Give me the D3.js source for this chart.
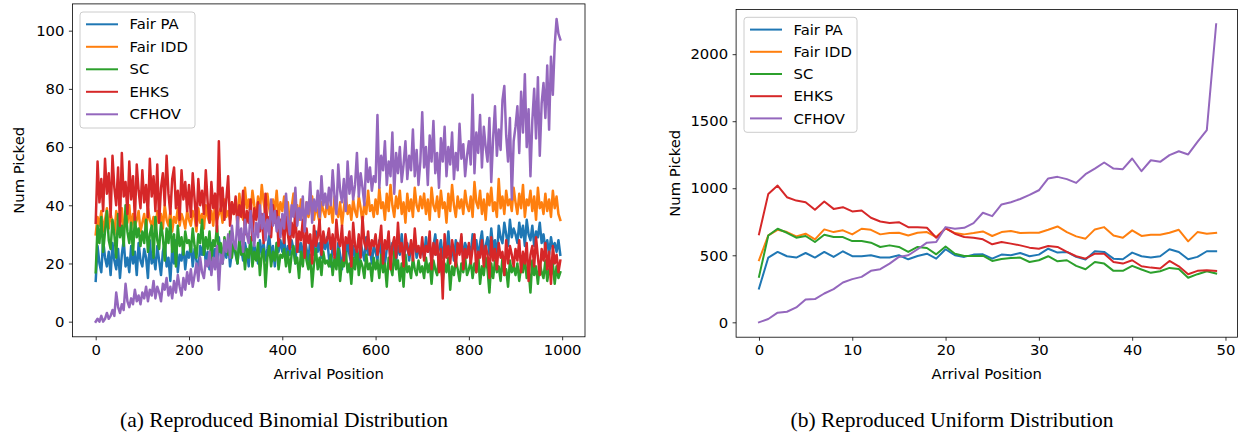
<!DOCTYPE html>
<meta charset="utf-8">
<div id="chart"></div>
<style>
body { margin: 0; background: #fff; }
#chart text { font-family: 'DejaVu Sans', sans-serif; fill: #000; }
#chart .caption { font-family: 'Liberation Serif', 'Times New Roman', serif; }
</style>
<script src="https://d3js.org/d3.v7.min.js"></script>
<script>
var names = ['Fair PA', 'Fair IDD', 'SC', 'EHKS', 'CFHOV'];
var colors = ['#1f77b4', '#ff7f0e', '#2ca02c', '#d62728', '#9467bd'];

// (a) binomial: one value every 4 arrival positions, 25 per row = 100 positions
var binomialX = d3.range(0, 1000, 4);
var binFairPA = [
  14,26,20,17,28,22,19,24,16,27,21,18,25,15,23,28,19,22,17,26,20,24,16,27,21,
  19,25,22,15,28,20,23,18,26,21,16,24,27,19,22,14,25,20,28,17,23,21,26,18,24,
  22,27,19,25,21,17,26,23,28,20,24,18,27,22,25,19,29,23,20,26,22,28,19,24,27,
  23,20,28,25,21,27,24,19,29,22,26,24,20,28,23,27,21,25,30,22,26,19,27,24,28,
  24,29,21,26,23,28,25,20,30,24,27,22,29,25,21,28,26,23,31,24,27,22,28,25,29,
  22,19,26,24,20,27,23,18,25,21,28,23,20,26,22,25,19,27,24,21,29,23,25,20,26,
  24,21,28,23,26,20,25,29,22,27,24,21,26,23,30,22,25,27,21,26,24,28,22,25,23,
  25,22,29,24,27,21,26,30,23,25,28,22,27,24,31,23,26,21,28,25,24,29,22,27,25,
  26,23,30,25,28,22,27,31,24,26,29,23,32,25,28,21,33,29,27,34,30,26,35,29,32,
  30,27,34,29,33,26,35,30,28,33,26,31,29,34,27,30,25,28,23,29,25,27,24,28,23
];
var binFairIDD = [
  30,36,33,38,31,35,39,32,37,34,30,38,35,33,39,31,36,34,40,32,37,33,35,38,31,
  34,37,31,39,35,33,36,30,38,34,37,32,40,35,33,38,31,36,34,39,33,37,35,32,38,
  35,33,38,36,31,39,34,37,32,40,36,34,38,33,41,35,37,39,34,42,36,38,35,41,37,
  40,36,44,38,35,46,39,42,37,45,40,36,43,38,47,41,37,44,39,35,42,38,45,36,41,
  38,43,36,41,34,39,44,37,40,35,42,38,33,41,36,39,43,35,40,37,34,41,38,36,42,
  37,40,34,43,38,36,41,33,39,44,37,40,35,42,38,36,43,39,34,41,37,45,38,40,36,
  42,37,46,39,41,35,44,38,47,40,36,43,39,45,37,41,34,44,38,42,36,46,40,38,43,
  39,44,37,42,35,46,40,38,43,36,45,39,41,34,44,38,47,40,36,43,39,42,37,45,40,
  38,43,36,48,41,39,45,37,42,35,44,40,46,38,41,36,49,39,43,37,45,40,42,38,46,
  41,37,44,39,47,36,42,40,45,38,43,35,46,39,41,37,44,38,42,36,45,39,43,37,35
];
var binSC = [
  17,33,27,36,24,31,38,28,25,35,30,22,37,29,33,26,40,31,27,34,23,36,29,32,26,
  31,27,35,24,30,33,22,36,28,25,34,29,21,32,27,35,24,30,19,33,26,29,23,31,27,
  28,24,32,26,22,30,27,35,23,29,25,31,21,28,26,33,24,27,20,29,25,23,31,22,27,
  24,20,28,23,26,18,25,22,29,19,24,21,27,16,23,25,12,22,26,19,24,21,27,18,23,
  22,25,19,24,17,23,26,20,22,15,24,19,27,21,18,23,12,20,25,18,22,16,24,20,21,
  19,23,16,22,18,25,14,21,19,24,17,20,13,22,18,25,16,21,19,15,23,18,20,14,22,
  18,21,15,23,17,20,12,22,19,16,24,18,21,14,20,12,23,17,19,15,22,18,16,21,17,
  19,15,22,17,20,13,21,18,16,23,19,14,20,17,22,11,19,16,21,18,14,20,17,22,16,
  18,21,15,20,17,23,13,19,16,22,18,10,20,15,21,17,19,14,22,16,18,12,21,17,19,
  16,20,14,19,17,22,15,18,10,21,16,19,13,20,17,15,21,14,18,16,20,13,19,15,17
];
var binEHKS = [
  34,55,41,49,38,56,44,51,36,57,46,40,53,33,58,43,48,37,55,42,50,35,54,45,39,
  52,41,47,36,56,43,50,38,54,34,46,51,40,57,44,37,49,53,39,45,35,52,42,48,38,
  47,36,51,42,33,49,40,45,37,52,41,34,48,39,44,31,62,38,46,35,42,50,33,41,37,
  43,32,40,36,45,30,38,34,42,28,39,35,41,31,37,27,44,33,36,29,40,34,38,26,35,
  33,27,36,30,25,34,29,38,24,31,28,35,22,32,27,30,20,33,26,29,35,23,31,27,28,
  32,25,30,22,35,28,26,33,21,29,27,31,19,34,26,24,30,22,36,27,25,31,23,28,26,
  30,23,27,33,20,28,25,31,18,26,29,22,34,24,27,19,30,25,23,28,21,32,24,26,22,
  29,21,26,24,31,18,27,23,28,17,25,8,30,22,26,20,28,24,19,27,23,30,18,25,22,
  27,20,25,30,17,24,22,28,19,26,23,15,29,21,25,18,27,22,24,16,28,20,26,23,19,
  25,21,28,17,24,20,27,14,23,26,19,29,22,16,25,21,27,18,24,13,26,20,23,17,21
];
var binCFHOV = [
  0,1,0,2,0,1,3,1,2,4,2,10,5,3,6,4,13,7,5,8,6,11,7,9,6,
  10,8,12,7,11,9,14,8,12,10,7,13,11,15,9,12,8,14,10,16,12,9,15,11,17,
  13,18,12,16,20,14,22,17,15,21,19,24,16,22,18,26,11,23,20,28,24,30,22,33,27,
  25,36,28,32,24,35,30,27,38,31,26,34,29,40,32,37,28,35,30,42,33,38,31,36,29,
  37,32,44,35,30,40,36,46,33,39,35,43,31,41,37,48,34,42,38,45,36,50,40,44,39,
  46,40,52,43,37,54,45,41,49,38,55,44,50,42,47,58,43,51,46,40,56,48,53,45,50,
  48,71,46,57,52,62,47,55,50,65,44,58,51,60,48,54,62,49,57,52,66,50,59,47,55,
  72,53,60,47,64,55,69,51,58,46,63,55,67,50,60,54,65,49,58,52,68,56,61,50,57,
  62,54,78,51,65,58,71,53,67,60,55,70,48,63,74,57,66,59,76,81,64,55,70,42,62,
  67,74,58,79,65,85,60,73,50,69,80,63,84,57,75,82,70,88,66,91,78,95,104,99,97
];
var binXTicks = [0, 200, 400, 600, 800, 1000];
var binYTicks = [0, 20, 40, 60, 80, 100];

// (b) uniform: one value per arrival position
var uniformX = d3.range(0, 50);
var uniFairPA = [252,483,525,493,483,517,483,525,488,530,493,493,500,483,483,500,470,495,512,475,
  545,500,488,505,507,475,505,500,517,493,505,549,520,525,488,468,530,525,475,470,
  520,493,483,493,545,525,470,488,530,530];
var uniFairIDD = [463,648,690,673,641,661,619,693,673,686,656,698,690,656,666,668,648,668,673,636,
  700,666,656,666,678,644,673,681,666,668,668,690,715,673,641,624,693,710,648,631,
  686,644,653,653,668,690,604,673,661,668];
var uniSC = [339,648,698,668,631,644,599,653,636,636,606,606,594,562,574,562,525,562,554,507,
  565,512,495,495,497,458,473,480,483,450,463,493,455,463,421,396,450,438,384,384,
  421,394,369,381,406,398,332,359,381,364];
var uniEHKS = [656,958,1020,933,908,896,839,901,846,859,827,834,780,752,740,747,710,710,705,631,
  702,661,636,631,619,582,599,587,574,557,549,569,562,525,493,475,512,512,450,438,
  463,418,408,401,458,418,359,384,389,384];
var uniCFHOV = [0,25,72,79,111,171,173,215,248,297,322,339,384,396,438,488,500,545,594,599,
  710,698,705,740,817,792,879,896,920,950,985,1073,1085,1068,1040,1105,1147,1192,1147,1142,
  1222,1127,1209,1197,1247,1276,1252,1346,1433,2223];
var uniXTicks = [0, 10, 20, 30, 40, 50];
var uniYTicks = [0, 500, 1000, 1500, 2000];

var svg = d3.select('#chart').append('svg')
  .attr('width', 1238)
  .attr('height', 436)
  .style('background', '#fff');

var fontSize = '14.8px';

function drawPanel(o) {
  var x = d3.scaleLinear().domain(o.xDomain).range([o.left, o.right]);
  var y = d3.scaleLinear().domain(o.yDomain).range([o.bottom, o.top]);
  var g = svg.append('g');

  g.append('clipPath').attr('id', o.id + '-clip')
    .append('rect')
    .attr('x', o.left).attr('y', o.top)
    .attr('width', o.spineRight - o.left).attr('height', o.bottom - o.top);

  var line = d3.line()
    .x(function(d) { return x(d[0]); })
    .y(function(d) { return y(d[1]); });

  g.append('g').attr('clip-path', 'url(#' + o.id + '-clip)')
    .selectAll('path')
    .data(o.series)
    .enter()
    .append('path')
    .attr('d', function(s) { return line(s.map(function(v, i) { return [o.xs[i], v]; })); })
    .attr('fill', 'none')
    .attr('stroke', function(s, i) { return colors[i]; })
    .attr('stroke-width', o.lineWidth)
    .attr('stroke-linejoin', 'round')
    .attr('stroke-linecap', 'square');

  var xAxis = d3.axisBottom(x).tickValues(o.xTicks).tickFormat(d3.format('d'))
    .tickSize(3.5).tickPadding(4).tickSizeOuter(0);
  var yAxis = d3.axisLeft(y).tickValues(o.yTicks).tickFormat(d3.format('d'))
    .tickSize(3.5).tickPadding(4.5).tickSizeOuter(0);

  var gx = g.append('g').attr('transform', 'translate(0,' + o.bottom + ')').call(xAxis);
  var gy = g.append('g').attr('transform', 'translate(' + o.left + ',0)').call(yAxis);
  [gx, gy].forEach(function(a) {
    a.select('.domain').remove();
    a.selectAll('line').attr('stroke', '#000').attr('stroke-width', 0.8);
    a.selectAll('text').style('font-size', fontSize).style('font-family', "'DejaVu Sans', sans-serif");
  });

  g.append('rect')
    .attr('x', o.left).attr('y', o.top)
    .attr('width', o.spineRight - o.left).attr('height', o.bottom - o.top)
    .attr('fill', 'none').attr('stroke', '#000').attr('stroke-width', 0.8);

  g.append('text')
    .attr('x', (o.left + o.spineRight) / 2)
    .attr('y', o.xLabelY)
    .attr('text-anchor', 'middle')
    .style('font-size', fontSize)
    .text('Arrival Position');

  g.append('text')
    .attr('transform', 'translate(' + o.yLabelX + ',' + (o.top + o.bottom) / 2 + ') rotate(-90)')
    .attr('text-anchor', 'middle')
    .attr('dy', '0.35em')
    .style('font-size', fontSize)
    .text('Num Picked');

  var lg = g.append('g').attr('transform', 'translate(' + o.legend[0] + ',' + o.legend[1] + ')');
  lg.append('rect')
    .attr('width', o.legend[2]).attr('height', o.legend[3])
    .attr('rx', 3).attr('ry', 3)
    .attr('fill', '#fff').attr('fill-opacity', 0.8)
    .attr('stroke', '#cccccc').attr('stroke-width', 1);
  var item = lg.selectAll('.item')
    .data(names)
    .enter()
    .append('g')
    .attr('class', 'item')
    .attr('transform', function(d, i) { return 'translate(0,' + (12.3 + i * o.legendStep) + ')'; });
  item.append('line')
    .attr('x1', 6).attr('x2', 38)
    .attr('stroke', function(d, i) { return colors[i]; })
    .attr('stroke-width', 2);
  item.append('text')
    .attr('x', 49.5)
    .attr('dy', '0.35em')
    .style('font-size', fontSize)
    .text(function(d) { return d; });

  svg.append('text')
    .attr('class', 'caption')
    .attr('x', o.captionX)
    .attr('y', 427)
    .attr('text-anchor', 'middle')
    .style('font-size', '21.5px')
    .text(o.caption);
}

drawPanel({
  id: 'binomial',
  xs: binomialX,
  series: [binFairPA, binFairIDD, binSC, binEHKS, binCFHOV],
  xDomain: [-49.95, 1048.95], yDomain: [-5.2, 109.2],
  left: 72.4, right: 585, spineRight: 585, top: 3.9, bottom: 336.8,
  xTicks: binXTicks, yTicks: binYTicks,
  lineWidth: 2.5,
  xLabelY: 379, yLabelX: 19,
  legend: [80, 12, 115, 116], legendStep: 22.5,
  caption: '(a) Reproduced Binomial Distribution', captionX: 284
});

drawPanel({
  id: 'uniform',
  xs: uniformX,
  series: [uniFairPA, uniFairIDD, uniSC, uniEHKS, uniCFHOV],
  xDomain: [-2.45, 51.45], yDomain: [-111, 2334],
  left: 736.1, right: 1239, spineRight: 1237.5, top: 9.4, bottom: 337.2,
  xTicks: uniXTicks, yTicks: uniYTicks,
  lineWidth: 2,
  xLabelY: 379, yLabelX: 675,
  legend: [744, 17.3, 113, 115], legendStep: 22.2,
  caption: '(b) Reproduced Uniform Distribution', captionX: 952
});
</script>
